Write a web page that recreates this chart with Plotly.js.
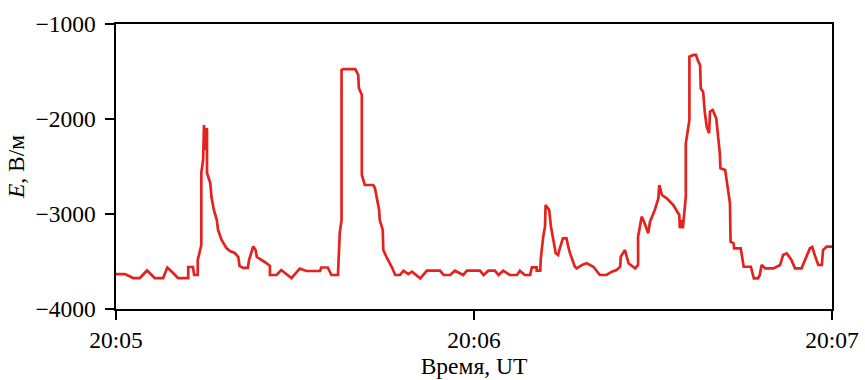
<!DOCTYPE html>
<html>
<head>
<meta charset="utf-8">
<script src="https://cdn.plot.ly/plotly-3.0.1.min.js"></script>
<style>
  html, body { margin: 0; padding: 0; background: #ffffff; }
  #chart { width: 865px; height: 380px; }
</style>
</head>
<body>
<div id="chart"></div>
<script>
// Time, seconds after 20:05:00 UT
const timeSec = [
  0.0, 1.5, 2.9, 4.0, 5.2, 6.5, 7.9, 8.6, 9.4, 10.4, 12.1, 12.1, 12.9, 13.1, 13.7, 13.7,
  14.3, 14.3, 14.6, 14.75, 15.0, 15.2, 15.25, 15.25, 15.8, 16.0, 16.4, 16.9, 17.1, 17.7,
  18.5, 19.1, 19.9, 20.5, 20.7, 21.3, 22.1, 22.3, 23.0, 23.4, 23.6, 24.4, 25.2, 25.8, 25.8,
  26.9, 27.7, 29.4, 30.8, 31.9, 34.2, 34.4, 35.5, 36.1, 37.2, 37.5, 37.8, 37.8, 38.1, 40.1,
  40.6, 40.7, 41.2, 41.2, 41.7, 43.1, 43.4, 44.1, 44.2, 44.7, 44.8, 45.4, 46.2, 46.8, 47.6,
  48.2, 49.0, 49.6, 51.0, 52.1, 54.3, 54.9, 56.0, 56.8, 58.2, 58.8, 61.0, 61.6, 62.4, 63.5,
  64.1, 64.9, 66.0, 67.2, 67.7, 68.5, 69.4, 69.7, 70.5, 70.5, 71.1, 71.2, 71.6, 71.9, 72.0,
  72.6, 72.9, 73.3, 73.7, 74.1, 74.3, 74.9, 75.5, 75.8, 76.1, 76.9, 77.2, 78.1, 78.9, 80.0,
  81.1, 82.2, 83.1, 83.9, 84.5, 84.6, 85.3, 85.9, 87.0, 87.5, 87.5, 88.1, 88.5, 89.2, 89.5,
  90.3, 90.9, 91.05, 91.5, 92.3, 93.4, 94.4, 94.5, 94.8, 95.0, 95.5, 95.5, 96.1, 96.1, 96.8,
  97.2, 97.6, 97.9, 98.0, 98.4, 98.7, 99.0, 99.4, 99.55, 100.0, 100.6, 101.2, 101.3, 102.1,
  102.9, 103.0, 103.5, 103.6, 104.7, 105.2, 106.4, 106.9, 107.6, 107.9, 108.2, 108.8, 110.2,
  111.3, 111.8, 112.4, 113.2, 113.8, 114.9, 115.6, 116.3, 116.7, 117.1, 117.7, 118.3, 118.5,
  119.1, 120.0
];
// Electric field E, V/m
const fieldE = [
  -3632, -3632, -3674, -3674, -3595, -3674, -3674, -3563, -3610, -3674, -3674, -3558, -3558, -3642, -3642, -3484,
  -3326, -2568, -2432, -2063, -2326, -2095, -2116, -2568, -2674, -2821, -2958, -3063, -3168, -3274,
  -3358, -3389, -3410, -3453, -3547, -3568, -3568, -3484, -3342, -3379, -3453, -3484, -3516, -3547, -3642,
  -3642, -3589, -3674, -3574, -3600, -3600, -3563, -3563, -3642, -3642, -3200, -3063, -1484, -1474, -1474,
  -1537, -1674, -1747, -2589, -2695, -2695, -2726, -2958, -3063, -3168, -3379, -3463, -3555, -3642, -3642,
  -3597, -3632, -3607, -3677, -3597, -3597, -3642, -3642, -3597, -3642, -3597, -3597, -3642, -3597, -3597,
  -3642, -3597, -3642, -3642, -3597, -3642, -3642, -3561, -3561, -3597, -3597, -3466, -3239, -3134, -2905,
  -2958, -3134, -3274, -3414, -3432, -3379, -3256, -3256, -3344, -3414, -3555, -3572, -3537, -3519, -3555,
  -3642, -3642, -3607, -3589, -3555, -3449, -3379, -3519, -3572, -3537, -3239, -3028, -3081, -3203, -3081,
  -2958, -2835, -2695, -2800, -2835, -2905, -3010, -3150, -3063, -3150, -2818, -2256, -2010, -1344, -1326,
  -1326, -1397, -1432, -1677, -1713, -1940, -2081, -2150, -1923, -1905, -1993, -2361, -2519, -2537,
  -2887, -3292, -3308, -3361, -3361, -3555, -3555, -3677, -3677, -3642, -3537, -3572, -3572,
  -3537, -3432, -3414, -3484, -3572, -3572, -3466, -3361, -3347, -3432, -3537, -3537, -3379,
  -3344, -3344
];
const xTickVals = [0, 60, 120];
const xTickText = ['20:05', '20:06', '20:07'];
const yTickVals = [-1000, -2000, -3000, -4000];
const xTitle = 'Время, UT';
const yTitle = '<i>E</i>, В/м';

const fontFamily = '"Liberation Serif", "Times New Roman", serif';
const fontSize = 23.5;
const tickFont = { family: fontFamily, size: fontSize, color: '#000000' };

const trace = {
  x: timeSec,
  y: fieldE,
  type: 'scatter',
  mode: 'lines',
  line: { color: '#e3231f', width: 2.7, simplify: false },
  hoverinfo: 'skip'
};

const axisCommon = {
  showgrid: false,
  zeroline: false,
  showline: true,
  linecolor: '#000000',
  linewidth: 1.6,
  mirror: true,
  ticks: 'outside',
  ticklen: 9,
  tickwidth: 1.6,
  tickcolor: '#000000',
  tickfont: tickFont
};

const layout = {
  width: 865,
  height: 380,
  margin: { l: 116, r: 33, t: 24, b: 71 },
  paper_bgcolor: '#ffffff',
  plot_bgcolor: '#ffffff',
  showlegend: false,
  xaxis: Object.assign({}, axisCommon, {
    range: [0, 120],
    tickmode: 'array',
    tickvals: xTickVals,
    ticktext: xTickText,
    title: { text: xTitle, font: { family: fontFamily, size: fontSize, color: '#000000' }, standoff: 6 }
  }),
  yaxis: Object.assign({}, axisCommon, {
    range: [-4000, -1000],
    tickmode: 'array',
    tickvals: yTickVals,
    tickformat: 'd',
    ticklabelstandoff: 5,
    title: { text: yTitle, font: { family: fontFamily, size: fontSize, color: '#000000' }, standoff: 4 }
  })
};

Plotly.newPlot('chart', [trace], layout, { staticPlot: true, displayModeBar: false });
</script>
</body>
</html>
